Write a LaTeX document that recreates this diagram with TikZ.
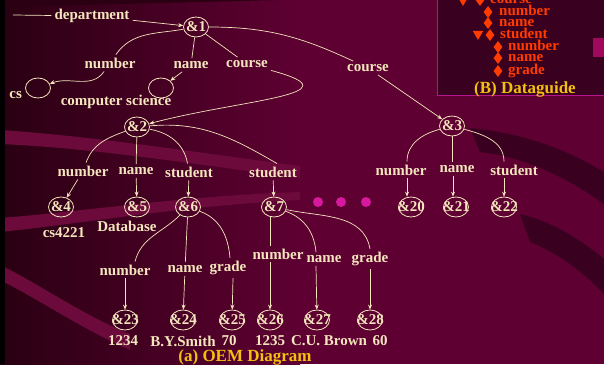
\documentclass[tikz,border=0pt]{standalone}
\usepackage{fontspec}
\setmainfont{Liberation Serif}
\usetikzlibrary{arrows.meta,positioning,shapes.geometric}

\definecolor{bgmid}{HTML}{5E0032}
\definecolor{bgdark}{HTML}{2A0012}
\definecolor{bgband}{HTML}{6C0A3C}
\definecolor{bgdeep}{HTML}{3A001F}
\definecolor{bgpink}{HTML}{A0085E}
\definecolor{ink}{HTML}{F4E6BC}
\definecolor{capyellow}{HTML}{F2C011}
\definecolor{dgred}{HTML}{FF3B00}
\definecolor{dgframe}{HTML}{B8148E}
\definecolor{dotpink}{HTML}{D8189E}

\newcommand{\oid}[1]{\makebox[0pt]{\&#1}}

\begin{document}
\begin{tikzpicture}[x=1pt,y=1pt,>={Stealth[length=5pt,width=4pt]},node distance=5pt,
	every node/.style={font=\fontsize{15}{16}\selectfont\bfseries},
	obj/.style={ellipse,draw=ink,line width=0.8pt,text=ink,inner sep=0pt,minimum width=25pt,minimum height=20pt},
	lbl/.style={text=ink,inner sep=3pt},
	val/.style={text=ink,inner sep=0pt},
	link/.style={color=ink,line width=0.7pt},
	dot/.style={circle,fill=dotpink,inner sep=0pt,minimum size=10pt},
	dgtext/.style={text=dgred,inner sep=0pt,anchor=base west},
	dgdia/.style={diamond,fill=dgred,inner sep=0pt,minimum width=9pt,minimum height=12pt},
	dgtri/.style={regular polygon,regular polygon sides=3,shape border rotate=180,fill=dgred,inner sep=0pt,minimum size=12pt},
	caption/.style={text=capyellow,font=\fontsize{17}{18}\selectfont\bfseries,inner sep=0pt}]

	% background
	\useasboundingbox (0,0) rectangle (604,364);
	\clip (0,0) rectangle (604,364);
	\fill[bgmid] (0,0) rectangle (604,364);
	\shade[left color=bgdark,right color=bgmid] (0,0) rectangle (300,364);
	\fill[bgband] (0,234) .. controls (90,228) and (180,214) .. (300,198) -- (300,186) .. controls (180,202) and (90,216) .. (0,220) -- cycle;
	\fill[bgband] (0,146) .. controls (80,152) and (180,168) .. (300,172) -- (300,164) .. controls (180,158) and (80,140) .. (0,132) -- cycle;
	\fill[bgband] (0,99) .. controls (40,80) and (80,50) .. (130,30) -- (130,14) .. controls (80,36) and (40,64) .. (0,84) -- cycle;
	\fill[bgdark] (0,364) -- (280,364) -- (0,357) -- cycle;
	\fill[bgdeep] (470,236) .. controls (530,230) and (570,212) .. (604,192) -- (604,160) .. controls (570,184) and (530,206) .. (480,212) -- cycle;
	\fill[bgdeep] (520,150) .. controls (560,140) and (585,120) .. (604,105) -- (604,70) .. controls (585,90) and (560,110) .. (530,122) -- cycle;
	\fill[black] (0,0) rectangle (5,364);

	% dataguide
	\filldraw[fill=bgdeep,draw=dgframe,line width=0.8pt] (437,269) rectangle (620,380);
	\fill[bgpink] (593,307) rectangle (604,326);
	\node[dgtri] (t_dept) at (463,364) {};
	\node[dgdia] (d_course) at (480,364) {};
	\node[dgtext] (g_course) at (490,360) {course};
	\node[dgdia] (d_num) at (488,352) {};
	\node[dgtext] (g_num) at (499,348) {number};
	\node[dgdia] (d_name) at (488,341) {};
	\node[dgtext] (g_name) at (499,337) {name};
	\node[dgtri] (t_stu) at (478,330) {};
	\node[dgdia] (d_stu) at (490,329) {};
	\node[dgtext] (g_stu) at (500,325) {student};
	\node[dgdia] (d_snum) at (498,317) {};
	\node[dgtext] (g_snum) at (508,313) {number};
	\node[dgdia] (d_sname) at (498,306) {};
	\node[dgtext] (g_sname) at (508,302) {name};
	\node[dgdia] (d_sgrade) at (498,293) {};
	\node[dgtext] (g_sgrade) at (508,289) {grade};
	\node[caption] (dg_cap) at (525,275) {(B) Dataguide};

	% OEM
	\coordinate (entry) at (13,349);
	\node[lbl] (dept) at (92,348) {department};
	\node[obj] (n1) at (196,337) {\oid{1}};
	\node[lbl] (num1) at (110,301) {number};
	\node[lbl] (name1) at (191,299) {name};
	\node[lbl] (course1) at (247,300) {course};
	\node[lbl] (course2) at (368,296) {course};
	\node[obj] (cs) at (38,276) {};
	\node[val,left=3pt of cs,yshift=-7pt] (cs_val) {cs};
	\node[obj] (csci) at (161,276) {};
	\node[val] (csci_val) at (116,262) {computer science};

	\node[obj] (n2) at (137,237) {\oid{2}};
	\node[obj] (n3) at (452,238) {\oid{3}};
	\node[lbl] (num2) at (83,193) {number};
	\node[lbl] (name2) at (136,193) {name};
	\node[lbl] (stu2) at (189,192) {student};
	\node[lbl] (stu2b) at (273,192) {student};
	\node[obj] (n4) at (61,157) {\oid{4}};
	\node[obj] (n5) at (137,157) {\oid{5}};
	\node[obj] (n6) at (188,157) {\oid{6}};
	\node[obj] (n7) at (274,157) {\oid{7}};
	\node[val,below=10pt of n4,xshift=3pt] (n4_val) {cs4221};
	\node[val,below=3pt of n5,xshift=-10pt] (n5_val) {Database};
	\foreach \x [count=\i] in {318,341,366}
		\node[dot] (dot\i) at (\x,162) {};

	\node[lbl] (num3) at (401,194) {number};
	\node[lbl] (name3) at (457,195) {name};
	\node[lbl] (stu3) at (514,194) {student};
	\node[obj] (n20) at (411,157) {\oid{20}};
	\node[obj] (n21) at (456,157) {\oid{21}};
	\node[obj] (n22) at (504,157) {\oid{22}};

	\node[lbl] (num6) at (125,94) {number};
	\node[lbl] (name6) at (185,95) {name};
	\node[lbl] (grade6) at (228,96) {grade};
	\node[lbl] (num7) at (278,110) {number};
	\node[lbl] (name7) at (324,105) {name};
	\node[lbl] (grade7) at (370,105) {grade};
	\node[obj] (n23) at (125,44) {\oid{23}};
	\node[obj] (n24) at (183,44) {\oid{24}};
	\node[obj] (n25) at (232,44) {\oid{25}};
	\node[obj] (n26) at (270,44) {\oid{26}};
	\node[obj] (n27) at (317,44) {\oid{27}};
	\node[obj] (n28) at (370,44) {\oid{28}};
	\node[val,below=5pt of n23,xshift=-2pt] (v23) {1234};
	\node[val,below=5pt of n24] (v24) {B.Y.Smith};
	\node[val,below=5pt of n25,xshift=-3pt] (v25) {70};
	\node[val,below=5pt of n26] (v26) {1235};
	\node[val,below=5pt of n27,xshift=12pt] (v27) {C.U. Brown};
	\node[val,below=5pt of n28,xshift=10pt] (v28) {60};
	\node[caption] (oem_cap) at (245,7) {(a) OEM Diagram};

	\path[link]	(entry)	edge	(dept)
				(dept)	edge[->]	(n1)
				(n1)	edge[out=190,in=55]	(num1)
						edge	(name1)
						edge	(course1)
						edge[out=0,in=155]	(course2)
				(num1)	edge[->,out=-125,in=20]	(cs)
				(name1)	edge[->]	(csci)
				(course1)	edge[->,out=-15,in=15,looseness=1.8]	(n2)
				(course2)	edge[->]	(n3)

				(n2)	edge[out=200,in=70]	(num2)
						edge	(name2)
						edge[out=-10,in=100]	(stu2)
						edge[out=5,in=150]	([xshift=4pt]stu2b.north)
				(num2)	edge[->]	(n4)
				(name2)	edge[->]	(n5)
				(stu2)	edge[->]	(n6)
				(stu2b)	edge[->]	(n7)

				(n3)	edge[out=195,in=90]	([xshift=6pt]num3.north)
						edge	(n3 |- name3.north)
						edge[out=-15,in=90]	([xshift=-10pt]stu3.north)
				([xshift=6pt]num3.south)	edge[->]	([xshift=6pt]num3.south |- n20.north)
				([xshift=-4pt]name3.south)	edge[->]	([xshift=-4pt]name3.south |- n21.north)
				([xshift=-10pt]stu3.south)	edge[->]	(n22)

				(n6)	edge[out=225,in=75]	([xshift=10pt]num6.north)
						edge	(name6)
						edge[out=-20,in=95]	([xshift=2pt]grade6.north)
				(num6)	edge[->]	(n23)
				(name6)	edge[->]	(n24)
				([xshift=5pt]grade6.south)	edge[->]	(n25)

				([xshift=-4pt]n7.south)	edge	([xshift=-8pt]num7.north)
				(n7)	edge[out=-20,in=95]	([xshift=-8pt]name7.north)
						edge[out=-12,in=100]	(grade7.north)
				([xshift=-8pt]num7.south)	edge[->]	(n26)
				([xshift=-8pt]name7.south)	edge[->]	(n27)
				(grade7)	edge[->]	(n28);
\end{tikzpicture}
\end{document}
